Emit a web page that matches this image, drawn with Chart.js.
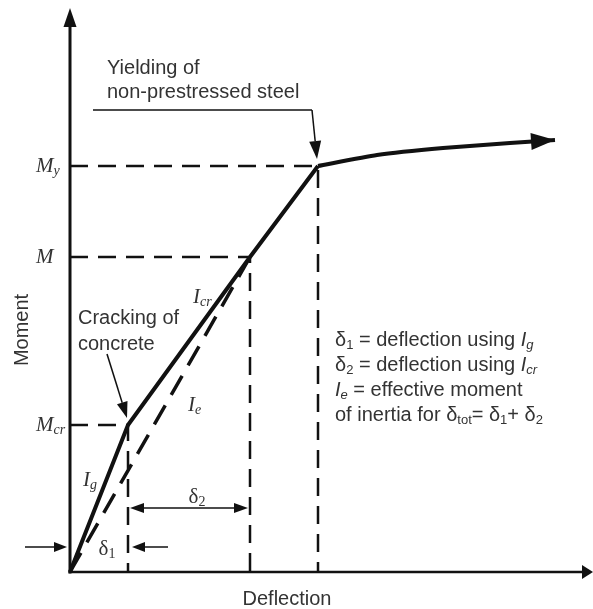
<!DOCTYPE html>
<html>
<head>
<meta charset="utf-8">
<script src="https://cdn.jsdelivr.net/npm/chart.js@4.4.1/dist/chart.umd.min.js"></script>
<style>
  html, body { margin: 0; padding: 0; background: #fff; }
  #wrap { width: 593px; height: 609px; }
</style>
</head>
<body>
<div id="wrap"><canvas id="momentDeflection" width="593" height="609"></canvas></div>
<script>
// key points of the moment-deflection curve (sketch units)
const deflection = [0, 58, 180, 248];          // origin, cracking, service moment M, yielding
const moment = [0, 147, 315, 406];
const momentSubscripts = ['', 'cr', '', 'y']; // M, M_cr, M_y labels on the moment axis

// branch after yielding of the steel
const postYieldDeflection = [248, 307, 373, 440, 485];
const postYieldMoment = [406, 417, 424, 429, 432];

// effective moment of inertia line I_e (origin to M)
const ieDeflection = [0, 180];
const ieMoment = [0, 315];

const legendLines = [
    [['δ', 'sans'], ['1', 'sansSub'], [' = deflection using ', 'sans'], ['I', 'sansIt'], ['g', 'sansItSub']],
    [['δ', 'sans'], ['2', 'sansSub'], [' = deflection using ', 'sans'], ['I', 'sansIt'], ['cr', 'sansItSub']],
    [['I', 'sansIt'], ['e', 'sansItSub'], [' = effective moment', 'sans']],
    [['of inertia for δ', 'sans'], ['tot', 'sansSub'], ['= δ', 'sans'], ['1', 'sansSub'], ['+ δ', 'sans'], ['2', 'sansSub']]
];

const INK = '#111';
const TEXT = '#333';

const fonts = {
    sans: ['20px "Liberation Sans", Arial, sans-serif', 0],
    sansSub: ['13px "Liberation Sans", Arial, sans-serif', 5],
    sansIt: ['italic 20px "Liberation Sans", Arial, sans-serif', 0],
    sansItSub: ['italic 13px "Liberation Sans", Arial, sans-serif', 5],
    serifIt: ['italic 21px "Liberation Serif", "Times New Roman", serif', 0],
    serifItSub: ['italic 14px "Liberation Serif", "Times New Roman", serif', 5],
    serif: ['21px "Liberation Serif", "Times New Roman", serif', 0],
    serifSub: ['14px "Liberation Serif", "Times New Roman", serif', 5]
};

function pts(xs, ys) {
    return xs.map((x, i) => ({ x: x, y: ys[i] }));
}

function drawParts(ctx, x, y, parts, align) {
    let total = 0;
    parts.forEach(p => { ctx.font = fonts[p[1]][0]; total += ctx.measureText(p[0]).width; });
    if (align === 'center') x -= total / 2;
    if (align === 'right') x -= total;
    ctx.textAlign = 'left';
    ctx.textBaseline = 'middle';
    parts.forEach(p => {
        ctx.font = fonts[p[1]][0];
        ctx.fillText(p[0], x, y + fonts[p[1]][1]);
        x += ctx.measureText(p[0]).width;
    });
}

function arrow(ctx, x1, y1, x2, y2, len, wid, lw) {
    const a = Math.atan2(y2 - y1, x2 - x1);
    const bx = x2 - len * Math.cos(a), by = y2 - len * Math.sin(a);
    ctx.lineWidth = lw;
    ctx.beginPath();
    ctx.moveTo(x1, y1);
    ctx.lineTo(bx, by);
    ctx.stroke();
    ctx.beginPath();
    ctx.moveTo(x2, y2);
    ctx.lineTo(bx + wid / 2 * Math.sin(a), by - wid / 2 * Math.cos(a));
    ctx.lineTo(bx - wid / 2 * Math.sin(a), by + wid / 2 * Math.cos(a));
    ctx.closePath();
    ctx.fill();
}

const sketchPlugin = {
    id: 'sketch',
    afterDatasetsDraw(chart) {
        const ctx = chart.ctx;
        const sx = chart.scales.x, sy = chart.scales.y;
        const px = v => sx.getPixelForValue(v);
        const py = v => sy.getPixelForValue(v);
        ctx.save();
        ctx.strokeStyle = INK;
        ctx.fillStyle = INK;
        ctx.lineCap = 'butt';

        // axes with arrow heads
        arrow(ctx, px(0), py(0) + 1.5, px(0), py(sy.max), 19, 13, 3);
        arrow(ctx, px(0) - 1.5, py(0), px(sx.max), py(0), 11, 14, 2.5);

        // arrow head at the end of the post-yield branch
        const n = postYieldDeflection.length;
        arrow(ctx, px(postYieldDeflection[n - 2]), py(postYieldMoment[n - 2]),
            px(postYieldDeflection[n - 1]), py(postYieldMoment[n - 1]), 24, 17, 0.1);

        // leader to yielding point
        ctx.lineWidth = 1.5;
        ctx.beginPath();
        ctx.moveTo(px(23), py(462));
        ctx.lineTo(px(242), py(462));
        ctx.stroke();
        arrow(ctx, px(242), py(462), px(247), py(413), 18, 12, 1.5);

        // leader to cracking point
        arrow(ctx, px(37), py(218), px(57), py(154), 16, 11, 1.5);

        // delta 2 dimension
        arrow(ctx, px(119), py(64), px(60), py(64), 14, 10, 1.5);
        arrow(ctx, px(119), py(64), px(178), py(64), 14, 10, 1.5);
        // delta 1 dimension
        arrow(ctx, px(-45), py(25), px(-3), py(25), 13, 10, 1.5);
        arrow(ctx, px(98), py(25), px(62), py(25), 13, 10, 1.5);

        // moment axis labels
        ctx.fillStyle = TEXT;
        moment.forEach((m, i) => {
            if (i === 0) return;
            const parts = [['M', 'serifIt']];
            if (momentSubscripts[i]) parts.push([momentSubscripts[i], 'serifItSub']);
            drawParts(ctx, px(-34), py(m), parts, 'left');
        });

        // stiffness labels
        drawParts(ctx, px(123), py(275), [['I', 'serifIt'], ['cr', 'serifItSub']], 'left');
        drawParts(ctx, px(118), py(167), [['I', 'serifIt'], ['e', 'serifItSub']], 'left');
        drawParts(ctx, px(13), py(92), [['I', 'serifIt'], ['g', 'serifItSub']], 'left');
        drawParts(ctx, px(127), py(75), [['δ', 'serif'], ['2', 'serifSub']], 'center');
        drawParts(ctx, px(37), py(23), [['δ', 'serif'], ['1', 'serifSub']], 'center');

        // notes
        drawParts(ctx, px(37), py(504), [['Yielding of', 'sans']], 'left');
        drawParts(ctx, px(37), py(480), [['non-prestressed steel', 'sans']], 'left');
        drawParts(ctx, px(8), py(254), [['Cracking of', 'sans']], 'left');
        drawParts(ctx, px(8), py(228), [['concrete', 'sans']], 'left');
        const legendY = [232, 207, 182, 157];
        legendLines.forEach((line, i) => drawParts(ctx, px(265), py(legendY[i]), line, 'left'));

        // axis titles
        drawParts(ctx, px(217), py(-27), [['Deflection', 'sans']], 'center');
        ctx.translate(22, py(242));
        ctx.rotate(-Math.PI / 2);
        drawParts(ctx, 0, 0, [['Moment', 'sans']], 'center');
        ctx.restore();
    }
};

const guide = (i) => ({
    data: pts([0, deflection[i], deflection[i]], [moment[i], moment[i], 0]),
    showLine: true,
    borderColor: INK,
    borderWidth: 2.5,
    borderDash: [18, 10],
    pointRadius: 0,
    clip: false
});

new Chart(document.getElementById('momentDeflection').getContext('2d'), {
    type: 'scatter',
    data: {
        datasets: [
            guide(1), guide(2), guide(3),
            {
                label: 'I_e',
                data: pts(ieDeflection, ieMoment),
                showLine: true,
                borderColor: INK,
                borderWidth: 3.5,
                borderDash: [22, 12],
                pointRadius: 0,
                clip: false
            },
            {
                label: 'Moment-deflection',
                data: pts(deflection, moment),
                showLine: true,
                borderColor: INK,
                borderWidth: 4,
                pointRadius: 0,
                clip: false
            },
            {
                label: 'After yielding',
                data: pts(postYieldDeflection, postYieldMoment),
                showLine: true,
                tension: 0.2,
                borderColor: INK,
                borderWidth: 4,
                pointRadius: 0,
                clip: false
            }
        ]
    },
    options: {
        responsive: false,
        animation: false,
        layout: { padding: { left: 70, right: 0, top: 8, bottom: 37 } },
        plugins: { legend: { display: false }, tooltip: { enabled: false } },
        scales: {
            x: { type: 'linear', min: 0, max: 523, display: false },
            y: { type: 'linear', min: 0, max: 564, display: false }
        }
    },
    plugins: [sketchPlugin]
});
</script>
</body>
</html>
